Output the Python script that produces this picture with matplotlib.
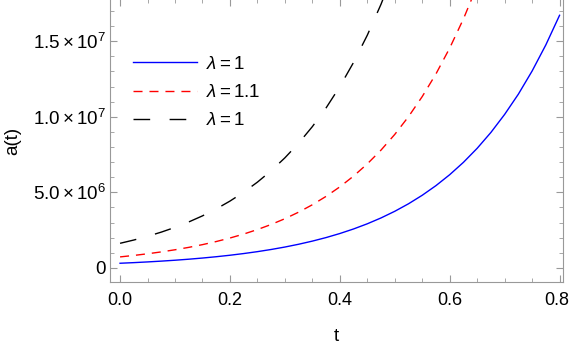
import numpy as np
import matplotlib.pyplot as plt
from matplotlib.transforms import ScaledTranslation

plt.rcParams['font.family'] = ['Liberation Sans', 'DejaVu Sans']
plt.rcParams['mathtext.fontset'] = 'custom'
plt.rcParams['mathtext.rm'] = 'Liberation Sans'
plt.rcParams['mathtext.it'] = 'Liberation Sans:italic'

# values (a(t) in units of 1e6), every 0.025 in t
t_vals = np.arange(33) * 0.025
a_blue = [0.310, 0.351, 0.398, 0.451, 0.510, 0.578, 0.655, 0.742, 0.840,
          0.952, 1.078, 1.221, 1.383, 1.567, 1.775, 2.010, 2.277, 2.579,
          2.921, 3.309, 3.748, 4.245, 4.809, 5.447, 6.170, 6.988, 7.916,
          8.966, 10.16, 11.50, 13.03, 14.76, 16.72]
a_red = [0.730, 0.827, 0.937, 1.061, 1.202, 1.361, 1.542, 1.747, 1.979,
         2.242, 2.539, 2.876, 3.258, 3.691, 4.181, 4.736, 5.365, 6.078,
         6.885, 7.799, 8.835, 10.01, 11.34, 12.84, 14.55, 16.48, 18.67]
a_black = [1.630, 1.847, 2.092, 2.370, 2.685, 3.042, 3.446, 3.904, 4.423,
           5.011, 5.677, 6.431, 7.286, 8.254, 9.351, 10.59, 12.00, 13.60,
           15.40, 17.45, 19.77]
labels = [r"$\lambda=1$", r"$\lambda=1.1$", r"$\lambda=1$"]

fig = plt.figure(figsize=(5.7, 3.46), dpi=100)
ax = fig.add_axes([0.193, 0.185, 0.794, 0.818])

ax.plot(t_vals, np.array(a_blue) * 1e6, color="blue", lw=1.0, label=labels[0])
ax.plot(t_vals[:len(a_red)], np.array(a_red) * 1e6, color="red", lw=1.0,
        dashes=(6.5, 5), label=labels[1])
ax.plot(t_vals[:len(a_black)], np.array(a_black) * 1e6, color="black", lw=1.0,
        dashes=(12, 14), label=labels[2])

ax.set_xlim(-0.0183, 0.8055)
ax.set_ylim(-0.93e6, 17.8e6)

ax.set_xticks([0.0, 0.2, 0.4, 0.6, 0.8])
ax.set_xticklabels(["0.0", "0.2", "0.4", "0.6", "0.8"])
ax.set_xticks(np.arange(0, 0.81, 0.05), minor=True)
ax.set_yticks([0, 5e6, 1e7, 1.5e7])
ax.set_yticklabels(["0", r"$5.0\times10^{6}$", r"$1.0\times10^{7}$",
                    r"$1.5\times10^{7}$"])
ax.set_yticks(np.arange(0, 17.5e6, 1e6), minor=True)

for s in ax.spines.values():
    s.set_color("#999999")
ax.tick_params(which="both", direction="in", top=True, right=True,
               color="#999999", labelsize=13.5)
ax.tick_params(axis="x", pad=7, labelsize=13)
ax.tick_params(axis="y", pad=3)
ax.tick_params(which="major", length=5)
ax.tick_params(which="minor", length=3)

# nudge the last x label so it stays inside the canvas
last = ax.get_xticklabels()[-1]
last.set_transform(last.get_transform()
                   + ScaledTranslation(-3 / 100, 0, fig.dpi_scale_trans))

ax.set_xlabel("t", fontsize=13.5, labelpad=14)
ax.set_ylabel("a(t)", fontsize=13.5, labelpad=8)

ax.legend(loc="upper left", bbox_to_anchor=(0.051, 0.80), frameon=False,
          fontsize=13.5, borderpad=0, borderaxespad=0, handlelength=3.4,
          handletextpad=0.5, labelspacing=0.6)

fig.savefig("out.png", dpi=100)
